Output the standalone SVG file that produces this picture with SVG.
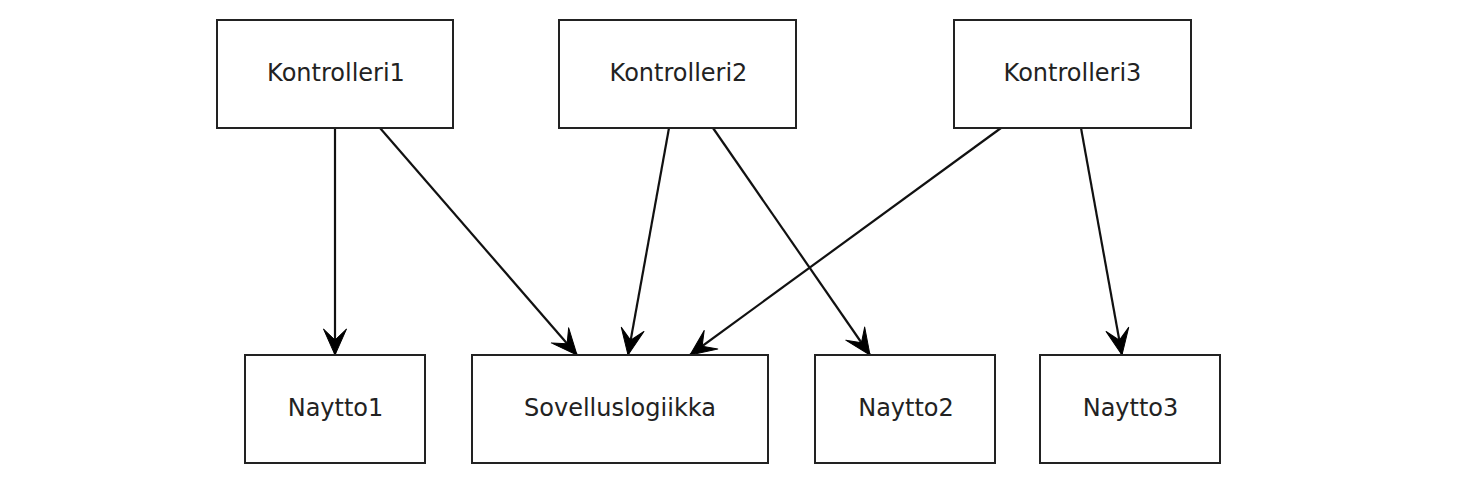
<svg xmlns="http://www.w3.org/2000/svg" width="1476" height="480" viewBox="0 0 1476 480">
<style>
rect{fill:#fff;stroke:#222;stroke-width:2}
text{font-family:"DejaVu Sans",sans-serif;font-size:24px;fill:#222;text-anchor:middle}
.c line{stroke:#111;stroke-width:2.2;marker-end:url(#a)}
</style>
<defs>
<marker id="a" markerUnits="userSpaceOnUse" markerWidth="30" markerHeight="30" viewBox="-28 -14 30 28" refX="0" refY="0" orient="auto">
<path d="M0,0 L-26,-11.5 L-15,0 L-26,11.5 Z" fill="#000" stroke="#000" stroke-width="1" stroke-linejoin="round"/>
</marker>
</defs>
<rect x="0" y="0" width="1476" height="480" style="stroke:none"/>
<g class="c">
<line x1="335" y1="128" x2="335" y2="355"/>
<line x1="380" y1="128" x2="577" y2="355"/>
<line x1="669" y1="128" x2="628" y2="355"/>
<line x1="713" y1="128" x2="870" y2="355"/>
<line x1="1001" y1="128" x2="690" y2="355"/>
<line x1="1081" y1="128" x2="1122" y2="355"/>
</g>
<g id="k1"><rect x="217" y="20" width="236" height="108"/><text x="336" y="81">Kontrolleri1</text></g>
<g id="k2"><rect x="559" y="20" width="237" height="108"/><text x="678.5" y="81">Kontrolleri2</text></g>
<g id="k3"><rect x="954" y="20" width="237" height="108"/><text x="1072.5" y="81">Kontrolleri3</text></g>
<g id="n1"><rect x="245" y="355" width="180" height="108"/><text x="335.5" y="416">Naytto1</text></g>
<g id="s"><rect x="472" y="355" width="296" height="108"/><text x="620" y="416">Sovelluslogiikka</text></g>
<g id="n2"><rect x="815" y="355" width="180" height="108"/><text x="906" y="416">Naytto2</text></g>
<g id="n3"><rect x="1040" y="355" width="180" height="108"/><text x="1130.5" y="416">Naytto3</text></g>
</svg>
